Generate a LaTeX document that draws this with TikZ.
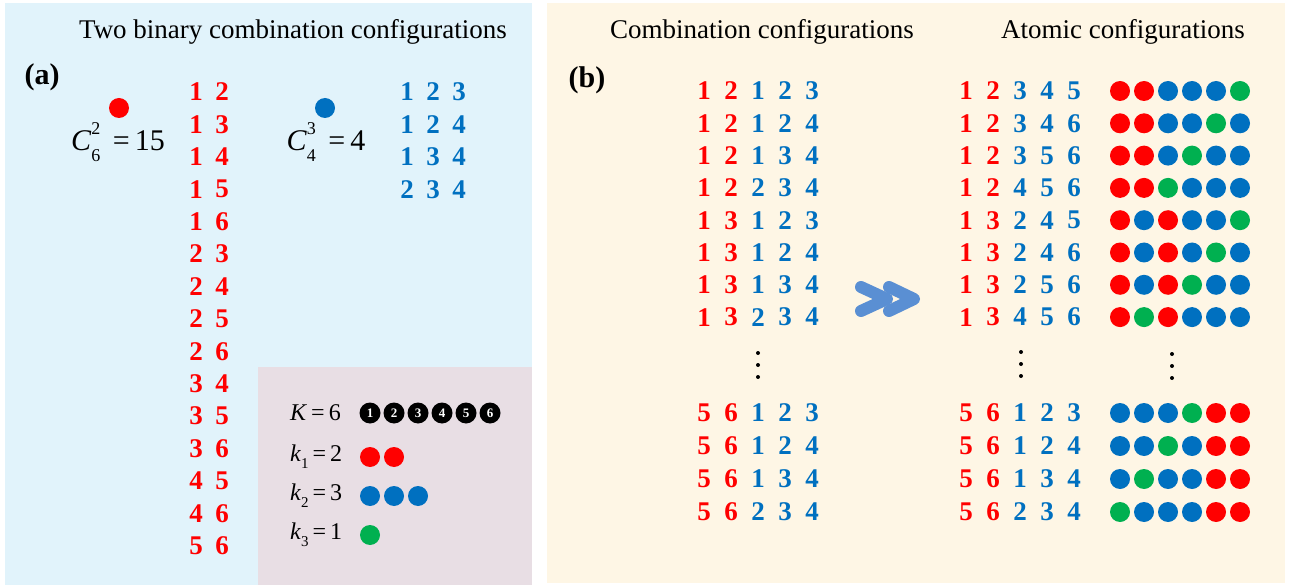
\documentclass[tikz,border=0pt]{standalone}
\usepackage{fontspec}
\setmainfont{Liberation Serif}
\definecolor{bgblue}{HTML}{E1F3FB}
\definecolor{bgcream}{HTML}{FEF6E5}
\definecolor{bgpink}{HTML}{E8DEE4}
\definecolor{cR}{HTML}{FF0000}
\definecolor{cB}{HTML}{0070C0}
\definecolor{cG}{HTML}{00B050}
\definecolor{carrow}{HTML}{5A8FD3}
\newcommand\lsub[1]{\raisebox{-0.3em}{\fontsize{15}{15}\selectfont #1}}
\newcommand\cscript[2]{\rlap{\raisebox{0.55em}{\fontsize{18}{18}\selectfont #1}}\raisebox{-0.35em}{\fontsize{18}{18}\selectfont #2}}
\begin{document}
\begin{tikzpicture}[x=1pt,y=-1pt,
  dig/.style={font=\fontsize{27}{27}\selectfont\bfseries, inner sep=0pt},
  rdig/.style={dig, text=cR},
  bdig/.style={dig, text=cB},
  title/.style={font=\fontsize{27}{27}\selectfont, inner sep=0pt},
  plabel/.style={font=\fontsize{30}{30}\selectfont\bfseries, inner sep=0pt},
  formula/.style={font=\fontsize{30}{30}\selectfont, inner sep=0pt},
  legtext/.style={font=\fontsize{24}{24}\selectfont, inner sep=0pt, anchor=west},
  numball/.style={circle, fill=black, inner sep=0pt, minimum size=21pt, text=white, font=\fontsize{13}{13}\selectfont\bfseries},
  chev/.style={line width=12pt, line cap=round, line join=round, draw=carrow},
  vdot/.style={fill=black}
]
\useasboundingbox (0,0) rectangle (1290,585);
% backgrounds
\fill[bgblue] (5,3) rectangle (532,585);
\fill[bgcream] (547,3) rectangle (1285,583);
\fill[bgpink] (258,367) rectangle (532,585);

% panel (a)
\node[title] (ta) at (293,32) {Two binary combination configurations};
\node[plabel] (la) at (42,77) {(a)};
\fill[cR] (119,108) circle (10);
\node[formula] (c1) at (118,142) {\textit{C}\cscript{2}{6}\ \,=\,15};
\fill[cB] (325,108) circle (10);
\node[formula] (c2) at (326,142) {\textit{C}\cscript{3}{4}\ \,=\,4};
\foreach \a/\b [count=\n from 0] in {1/2,1/3,1/4,1/5,1/6,2/3,2/4,2/5,2/6,3/4,3/5,3/6,4/5,4/6,5/6}{
  \node[rdig] (ra\n) at (196,92+32.4*\n) {\a};
  \node[rdig] (rb\n) at (222,92+32.4*\n) {\b};
}
\foreach \a/\b/\c [count=\n from 0] in {1/2/3,1/2/4,1/3/4,2/3/4}{
  \node[bdig] (ba\n) at (407,92+32.4*\n) {\a};
  \node[bdig] (bb\n) at (433,92+32.4*\n) {\b};
  \node[bdig] (bc\n) at (459,92+32.4*\n) {\c};
}
% legend
\node[legtext] (lk) at (290,413) {\textit{K}\,=\,6};
\foreach \k [count=\n from 0] in {1,...,6}{
  \node[numball] (nb\k) at (370+24*\n,413) {\k};
}
\node[legtext] (lk1) at (290,457) {\textit{k}\lsub{1}\,=\,2};
\node[legtext] (lk2) at (290,496) {\textit{k}\lsub{2}\,=\,3};
\node[legtext] (lk3) at (290,535) {\textit{k}\lsub{3}\,=\,1};
\fill[cR] (370,457) circle (10);
\fill[cR] (394,457) circle (10);
\fill[cB] (370,496) circle (10);
\fill[cB] (394,496) circle (10);
\fill[cB] (418,496) circle (10);
\fill[cG] (370,535) circle (10);

% panel (b)
\node[title] (tb1) at (762,32) {Combination configurations};
\node[title] (tb2) at (1123,32) {Atomic configurations};
\node[plabel] (lb) at (587,80) {(b)};
\foreach \ry/\la/\lb/\lc/\ld/\le/\ra/\rb/\rc/\rd/\re/\D in {
  91/1/2/1/2/3/1/2/3/4/5/{cR,cR,cB,cB,cB,cG},
  123.3/1/2/1/2/4/1/2/3/4/6/{cR,cR,cB,cB,cG,cB},
  155.6/1/2/1/3/4/1/2/3/5/6/{cR,cR,cB,cG,cB,cB},
  187.9/1/2/2/3/4/1/2/4/5/6/{cR,cR,cG,cB,cB,cB},
  220.2/1/3/1/2/3/1/3/2/4/5/{cR,cB,cR,cB,cB,cG},
  252.5/1/3/1/2/4/1/3/2/4/6/{cR,cB,cR,cB,cG,cB},
  284.8/1/3/1/3/4/1/3/2/5/6/{cR,cB,cR,cG,cB,cB},
  317.1/1/3/2/3/4/1/3/4/5/6/{cR,cG,cR,cB,cB,cB},
  413/5/6/1/2/3/5/6/1/2/3/{cB,cB,cB,cG,cR,cR},
  446/5/6/1/2/4/5/6/1/2/4/{cB,cB,cG,cB,cR,cR},
  479/5/6/1/3/4/5/6/1/3/4/{cB,cG,cB,cB,cR,cR},
  512/5/6/2/3/4/5/6/2/3/4/{cG,cB,cB,cB,cR,cR}}{
  \node[rdig] (L\ry a) at (704,\ry) {\la};
  \node[rdig] (L\ry b) at (731,\ry) {\lb};
  \node[bdig] (L\ry c) at (758,\ry) {\lc};
  \node[bdig] (L\ry d) at (785,\ry) {\ld};
  \node[bdig] (L\ry e) at (812,\ry) {\le};
  \node[rdig] (R\ry a) at (966,\ry) {\ra};
  \node[rdig] (R\ry b) at (993,\ry) {\rb};
  \node[bdig] (R\ry c) at (1020,\ry) {\rc};
  \node[bdig] (R\ry d) at (1047,\ry) {\rd};
  \node[bdig] (R\ry e) at (1074,\ry) {\re};
  \foreach \col [count=\k from 0] in \D {
    \fill[\col] (1120+24*\k,\ry) circle (10);
  }
}
% vertical ellipses
\foreach \yy in {353,365,377}{
  \fill[vdot] (758,\yy) circle (2);
  \fill[vdot] (1021,\yy-1) circle (2);
  \fill[vdot] (1172,\yy+1) circle (2);
}
% arrow
\draw[chev] (861,287) -- (887,299) -- (861,311);
\draw[chev] (889,287) -- (914,299) -- (889,311);
\end{tikzpicture}
\end{document}
